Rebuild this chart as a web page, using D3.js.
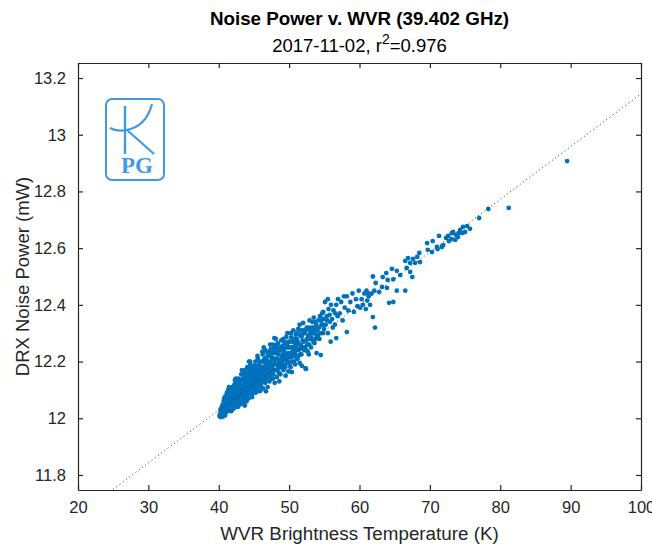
<!DOCTYPE html>
<html>
<head>
<meta charset="utf-8">
<script src="https://cdn.jsdelivr.net/npm/d3@7"></script>
<style>
  html, body { margin: 0; padding: 0; background: #fff; }
  svg { display: block; }
  text { font-family: "Liberation Sans", Arial, Helvetica, sans-serif; fill: #262626; }
</style>
</head>
<body>
<svg id="chart" width="652" height="544"></svg>
<script>
// ---------------- data ----------------
const titleText = "Noise Power v. WVR (39.402 GHz)";
const subtitleDate = "2017-11-02, r";
const subtitleR2 = "=0.976";
const xLabel = "WVR Brightness Temperature (K)";
const yLabel = "DRX Noise Power (mW)";

const xDomain = [20, 100];
const yDomain = [11.747, 13.253];
const xTicks = [20, 30, 40, 50, 60, 70, 80, 90, 100];
const yTicks = [11.8, 12, 12.2, 12.4, 12.6, 12.8, 13, 13.2];
const yTickLabels = ["11.8", "12", "12.2", "12.4", "12.6", "12.8", "13", "13.2"];

// linear fit (slope mW/K, intercept mW)
const fitSlope = 0.01859;
const fitIntercept = 11.285;

// WVR brightness temperature (K) vs DRX noise power (mW)
const samples = [
  // 40-41
  [40.1,12.008],[40.2,12.016],[40.3,12.004],[40.35,12.024],[40.45,12.012],[40.5,12.03],[40.55,12.02],[40.6,12.006],
  [40.65,12.042],[40.7,12.018],[40.75,12.054],[40.8,12.03],[40.85,12.066],[40.9,12.01],[40.9,12.044],[40.95,12.078],
  [40.95,12.024],[40.4,12.038],[40.7,12.062],[40.8,12.072],
  [40.25,12.03],[40.55,12.048],[40.85,12.04],[40.6,12.016],[40.35,12.01],
  // 41-42
  [41.0,12.02],[41.05,12.05],[41.1,12.035],[41.15,12.09],[41.2,12.06],[41.25,12.025],[41.3,12.075],[41.35,12.1],
  [41.4,12.045],[41.45,12.065],[41.5,12.03],[41.55,12.085],[41.6,12.105],[41.65,12.055],[41.7,12.04],[41.75,12.075],
  [41.8,12.095],[41.85,12.06],[41.9,12.03],[41.95,12.11],[41.3,12.055],[41.7,12.088],
  [41.1,12.07],[41.2,12.04],[41.4,12.09],[41.5,12.055],[41.6,12.07],[41.8,12.045],[41.9,12.08],[41.05,12.03],
  [41.45,12.11],[41.75,12.025],
  // 42-43
  [42.0,12.04],[42.05,12.07],[42.1,12.1],[42.15,12.055],[42.2,12.085],[42.25,12.12],[42.3,12.045],[42.35,12.075],
  [42.4,12.105],[42.45,12.06],[42.5,12.09],[42.55,12.13],[42.6,12.05],[42.65,12.08],[42.7,12.115],[42.75,12.065],
  [42.8,12.095],[42.85,12.045],[42.9,12.125],[42.95,12.075],[42.3,12.135],[42.8,12.14],
  [42.1,12.065],[42.2,12.11],[42.3,12.09],[42.4,12.055],[42.5,12.075],[42.6,12.12],[42.7,12.04],[42.9,12.1],
  [42.15,12.035],[42.45,12.14],[42.65,12.095],[42.85,12.065],
  // 43-44
  [43.0,12.06],[43.05,12.1],[43.1,12.13],[43.15,12.075],[43.2,12.155],[43.25,12.09],[43.3,12.115],[43.35,12.055],
  [43.4,12.14],[43.45,12.08],[43.5,12.105],[43.55,12.165],[43.6,12.065],[43.65,12.125],[43.7,12.095],[43.75,12.15],
  [43.8,12.075],[43.85,12.11],[43.9,12.135],[43.95,12.06],[43.3,12.17],[43.7,12.045],
  [43.1,12.085],[43.2,12.11],[43.3,12.07],[43.4,12.095],[43.5,12.14],[43.6,12.11],[43.8,12.13],[43.9,12.085],
  [43.15,12.05],[43.45,12.06],[43.75,12.17],[43.95,12.155],
  // 44-45
  [44.0,12.08],[44.05,12.12],[44.1,12.15],[44.15,12.095],[44.2,12.175],[44.25,12.07],[44.3,12.135],[44.35,12.105],
  [44.4,12.16],[44.45,12.085],[44.5,12.19],[44.55,12.12],[44.6,12.145],[44.65,12.1],[44.7,12.17],[44.75,12.075],
  [44.8,12.13],[44.85,12.155],[44.9,12.11],[44.95,12.185],[44.3,12.2],[44.6,12.09],
  [44.1,12.11],[44.2,12.09],[44.3,12.16],[44.4,12.125],[44.5,12.1],[44.6,12.18],[44.7,12.14],[44.8,12.09],
  [44.9,12.165],[44.05,12.18],[44.45,12.2],[44.75,12.115],
  // 45-46
  [45.0,12.1],[45.05,12.14],[45.1,12.17],[45.15,12.12],[45.2,12.2],[45.25,12.09],[45.3,12.155],[45.35,12.185],
  [45.4,12.13],[45.5,12.105],[45.55,12.21],[45.6,12.165],[45.65,12.14],[45.7,12.115],[45.75,12.19],[45.8,12.15],
  [45.85,12.095],[45.9,12.175],[45.95,12.13],[45.5,12.22],
  [45.1,12.11],[45.2,12.145],[45.3,12.12],[45.4,12.175],[45.5,12.145],[45.6,12.12],[45.7,12.17],[45.8,12.2],
  [45.9,12.11],[45.05,12.185],[45.35,12.1],[45.75,12.135],
  // 46-47
  [46.0,12.12],[46.05,12.16],[46.1,12.2],[46.2,12.14],[46.25,12.225],[46.3,12.105],[46.4,12.175],[46.45,12.15],
  [46.5,12.21],[46.6,12.125],[46.65,12.19],[46.7,12.165],[46.8,12.235],[46.85,12.14],[46.9,12.2],[46.95,12.11],
  [46.4,12.25],[46.7,12.095],
  [46.1,12.13],[46.15,12.18],[46.3,12.165],[46.35,12.2],[46.5,12.135],[46.55,12.18],[46.75,12.21],[46.8,12.15],
  [46.9,12.175],[46.2,12.235],[46.6,12.24],[46.95,12.22],
  // 47-48
  [47.0,12.15],[47.1,12.185],[47.15,12.22],[47.2,12.13],[47.3,12.2],[47.35,12.165],[47.4,12.245],[47.5,12.14],
  [47.55,12.215],[47.6,12.18],[47.7,12.26],[47.75,12.155],[47.8,12.23],[47.9,12.195],[47.95,12.125],[47.9,12.283],
  [47.05,12.2],[47.2,12.17],[47.25,12.235],[47.4,12.19],[47.45,12.15],[47.6,12.21],[47.65,12.24],[47.8,12.17],
  [47.85,12.21],[47.3,12.26],[47.7,12.14],
  [47.1,12.16],[47.5,12.23],[47.55,12.17],[47.95,12.25],
  // 48-49
  [48.0,12.17],[48.1,12.21],[48.2,12.245],[48.25,12.145],[48.3,12.19],[48.4,12.265],[48.5,12.225],[48.55,12.16],
  [48.6,12.13],[48.7,12.205],[48.75,12.25],[48.8,12.18],[48.9,12.275],[48.95,12.22],[48.1,12.28],
  [48.05,12.19],[48.15,12.23],[48.35,12.21],[48.45,12.175],[48.6,12.24],[48.65,12.19],[48.85,12.2],[48.9,12.24],
  [48.3,12.26],[48.75,12.155],
  [48.2,12.17],[48.45,12.245],[48.55,12.2],[48.95,12.185],
  // 49-50
  [49.0,12.2],[49.1,12.235],[49.2,12.17],[49.3,12.27],[49.4,12.215],[49.5,12.15],[49.55,12.25],[49.6,12.287],
  [49.7,12.195],[49.8,12.23],[49.9,12.165],[49.95,12.27],[49.3,12.185],[49.75,12.3],
  [49.05,12.255],[49.15,12.21],[49.25,12.24],[49.45,12.18],[49.5,12.265],[49.65,12.22],[49.85,12.25],[49.9,12.2],
  [49.2,12.28],
  [49.35,12.225],[49.6,12.205],[49.75,12.265],[49.1,12.19],
  // 50-51
  [50.0,12.215],[50.1,12.25],[50.2,12.18],[50.3,12.285],[50.4,12.163],[50.5,12.235],[50.6,12.31],[50.7,12.2],
  [50.8,12.265],[50.9,12.225],[50.95,12.295],[50.5,12.27],[50.85,12.19],
  [50.05,12.19],[50.15,12.23],[50.35,12.25],[50.45,12.2],[50.65,12.25],[50.75,12.28],[50.9,12.255],[50.25,12.3],
  [50.1,12.27],[50.3,12.215],[50.55,12.22],[50.7,12.235],[50.95,12.24],
  // 51-52
  [51.0,12.245],[51.1,12.28],[51.2,12.21],[51.3,12.315],[51.4,12.26],[51.5,12.33],[51.6,12.225],[51.7,12.29],
  [51.8,12.185],[51.85,12.25],[51.95,12.31],[51.5,12.195],
  [51.05,12.21],[51.2,12.27],[51.35,12.24],[51.45,12.295],[51.65,12.26],[51.75,12.225],[51.9,12.275],
  [51.1,12.3],[51.3,12.22],[51.55,12.245],[51.6,12.31],[51.8,12.29],
  // 52-53
  [52.0,12.336],[52.1,12.27],[52.2,12.3],[52.3,12.177],[52.4,12.24],[52.5,12.32],[52.6,12.26],[52.7,12.29],
  [52.8,12.225],[52.9,12.345],[52.4,12.174],
  [52.05,12.3],[52.25,12.25],[52.35,12.31],[52.55,12.28],[52.75,12.32],[52.85,12.26],[52.95,12.3],
  [52.15,12.24],[52.45,12.275],[52.65,12.235],[52.9,12.28],
  // 53-54
  [53.0,12.28],[53.1,12.25],[53.2,12.32],[53.35,12.3],[53.5,12.355],[53.6,12.265],[53.7,12.34],[53.8,12.295],
  [53.9,12.23],[53.95,12.315],
  [53.15,12.285],[53.3,12.34],[53.45,12.27],[53.55,12.31],[53.75,12.28],[53.85,12.33],
  [53.05,12.31],[53.4,12.32],[53.65,12.3],
  // 54-55
  [54.0,12.31],[54.15,12.345],[54.3,12.28],[54.5,12.223],[54.6,12.33],[54.7,12.37],[54.8,12.3],[54.9,12.35],[55.1,12.41],
  [54.1,12.29],[54.25,12.32],[54.4,12.36],[54.45,12.3],[54.75,12.33],[54.95,12.315],
  [54.55,12.345],[54.85,12.375],
  // 55-58
  [55.2,12.33],[55.35,12.36],[55.5,12.3],[55.6,12.385],[55.8,12.34],[55.9,12.27],[55.95,12.4],[55.5,12.42],
  [56.1,12.35],[56.3,12.38],[56.5,12.33],[56.7,12.283],[56.7,12.4],[56.9,12.36],[56.95,12.42],
  [57.2,12.37],[57.4,12.41],[57.6,12.345],[57.8,12.43],[57.9,12.39],[58.2,12.304],
  [55.4,12.345],[55.75,12.365],[56.2,12.32],[56.55,12.37],
  // 58-62
  [58.2,12.43],[58.4,12.38],[58.7,12.41],[59.0,12.44],[59.2,12.375],[59.5,12.42],[59.7,12.395],[59.9,12.45],
  [60.1,12.39],[60.3,12.42],[60.5,12.4],[60.7,12.44],[60.9,12.385],[61.1,12.415],[61.3,12.43],[61.5,12.4],
  [61.7,12.44],[61.9,12.357],[62.2,12.32],[61.0,12.45],
  // 61-66
  [61.2,12.44],[61.9,12.5],[62.3,12.477],[63.8,12.512],[64.6,12.527],[65.3,12.52],[63.3,12.498],[64.0,12.488],
  [64.8,12.49],[65.8,12.505],[63.2,12.463],[63.9,12.46],[65.3,12.45],[62.8,12.445],[62.1,12.45],[66.5,12.45],
  [64.8,12.41],[64.2,12.407],
  // 66-69
  [66.5,12.555],[66.9,12.565],[67.6,12.562],[67.2,12.548],[68.2,12.569],[68.5,12.583],[67.9,12.548],[68.6,12.551],
  [66.7,12.53],[67.2,12.516],[67.5,12.498],
  // 69-72
  [69.6,12.618],[69.7,12.594],[70.3,12.586],[70.4,12.625],[71.0,12.604],[71.7,12.604],[71.1,12.597],[71.3,12.643],
  [71.9,12.611],
  // 72-76
  [72.3,12.636],[72.6,12.643],[73.1,12.632],[73.3,12.657],[73.7,12.646],[74.0,12.639],[74.3,12.664],[74.6,12.653],
  [74.7,12.675],[75.3,12.678],[75.7,12.668],[72.7,12.625],[73.6,12.629],[74.1,12.653],[75.0,12.657],[73.1,12.653],
  // outliers
  [77.0,12.706],[78.3,12.738],[81.2,12.742],[89.5,12.907]
];

// ---------------- layout ----------------
const W = 652, H = 544;
const plot = { left: 78, right: 641, top: 63, bottom: 490 };
const axisColor = "#262626";
const markerColor = "#0072BD";
const logoColor = "#3D9BE6";

const svg = d3.select("#chart");

const x = d3.scaleLinear().domain(xDomain).range([plot.left, plot.right]);
const y = d3.scaleLinear().domain(yDomain).range([plot.bottom, plot.top]);

svg.append("defs").append("clipPath").attr("id", "clip")
  .append("rect")
  .attr("x", plot.left).attr("y", plot.top)
  .attr("width", plot.right - plot.left).attr("height", plot.bottom - plot.top);

// logo
const logo = svg.append("g").attr("class", "logo");
logo.append("rect")
  .attr("x", 106).attr("y", 99).attr("width", 58).attr("height", 81)
  .attr("rx", 6).attr("ry", 6)
  .attr("fill", "#fff").attr("stroke", logoColor).attr("stroke-width", 2);
logo.append("path")
  .attr("d", "M125,106 L125,154")
  .attr("stroke", logoColor).attr("stroke-width", 2.4).attr("fill", "none");
logo.append("path")
  .attr("d", "M110,128 C115,131 121,131 126,130 C139,128 148,119 152,104")
  .attr("stroke", logoColor).attr("stroke-width", 2.2).attr("fill", "none");
logo.append("path")
  .attr("d", "M127,130 L154,154")
  .attr("stroke", logoColor).attr("stroke-width", 2.2).attr("fill", "none");
logo.append("text")
  .attr("x", 137).attr("y", 173)
  .attr("text-anchor", "middle")
  .style("font-family", "'Liberation Serif', 'DejaVu Serif', serif")
  .style("font-weight", "bold")
  .style("font-size", "23px")
  .style("fill", logoColor)
  .text("PG");

// points
svg.append("g").attr("clip-path", "url(#clip)")
  .selectAll("circle")
  .data(samples)
  .join("circle")
  .attr("cx", d => x(d[0]))
  .attr("cy", d => y(d[1]))
  .attr("r", 2.4)
  .attr("fill", markerColor);

// fit line (dotted)
svg.append("g").attr("clip-path", "url(#clip)")
  .append("line")
  .attr("x1", x(xDomain[0])).attr("y1", y(fitIntercept + fitSlope * xDomain[0]))
  .attr("x2", x(xDomain[1])).attr("y2", y(fitIntercept + fitSlope * xDomain[1]))
  .attr("stroke", "#222")
  .attr("stroke-width", 1)
  .attr("stroke-dasharray", "1,3");

// axes (box with inward ticks on all sides)
const tickLen = 5;
const xAxisBottom = d3.axisBottom(x).tickValues(xTicks).tickSizeInner(-tickLen).tickSizeOuter(0).tickPadding(11);
const xAxisTop = d3.axisTop(x).tickValues(xTicks).tickSizeInner(-tickLen).tickSizeOuter(0).tickFormat("");
const yAxisLeft = d3.axisLeft(y).tickValues(yTicks).tickSizeInner(-tickLen).tickSizeOuter(0).tickPadding(12)
  .tickFormat((d, i) => yTickLabels[i]);
const yAxisRight = d3.axisRight(y).tickValues(yTicks).tickSizeInner(-tickLen).tickSizeOuter(0).tickFormat("");

function styleAxis(g) {
  g.select(".domain").attr("stroke", axisColor).attr("stroke-width", 1.2);
  g.selectAll(".tick line").attr("stroke", axisColor).attr("stroke-width", 1.2);
  g.selectAll(".tick text")
    .style("font-family", "'Liberation Sans', Arial, sans-serif")
    .style("font-size", "16.5px")
    .attr("fill", axisColor);
}

svg.append("g").attr("transform", `translate(0,${plot.bottom})`).call(xAxisBottom).call(styleAxis);
svg.append("g").attr("transform", `translate(0,${plot.top})`).call(xAxisTop).call(styleAxis);
svg.append("g").attr("transform", `translate(${plot.left},0)`).call(yAxisLeft).call(styleAxis);
svg.append("g").attr("transform", `translate(${plot.right},0)`).call(yAxisRight).call(styleAxis);

// titles
const cx = (plot.left + plot.right) / 2;
svg.append("text")
  .attr("x", cx).attr("y", 25)
  .attr("text-anchor", "middle")
  .style("font-size", "18.8px").style("font-weight", "bold")
  .style("fill", "#000")
  .text(titleText);

const sub = svg.append("text")
  .attr("x", cx).attr("y", 52)
  .attr("text-anchor", "middle")
  .style("font-size", "18.5px")
  .style("fill", "#000");
sub.append("tspan").text(subtitleDate);
sub.append("tspan").attr("dy", -8).style("font-size", "14px").text("2");
sub.append("tspan").attr("dy", 8).text(subtitleR2);

// axis labels
svg.append("text")
  .attr("x", cx).attr("y", 540)
  .attr("text-anchor", "middle")
  .style("font-size", "18.8px")
  .text(xLabel);

svg.append("text")
  .attr("transform", `translate(28.5,${(plot.top + plot.bottom) / 2}) rotate(-90)`)
  .attr("text-anchor", "middle")
  .style("font-size", "18.5px")
  .text(yLabel);
</script>
</body>
</html>
